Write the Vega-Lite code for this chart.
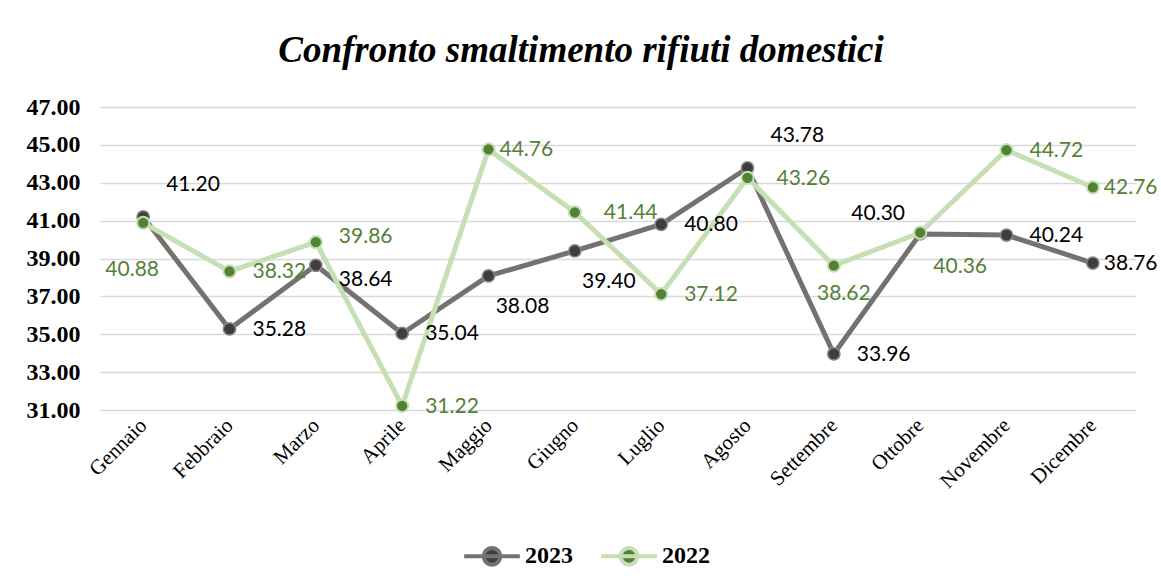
{
  "$schema": "https://vega.github.io/schema/vega-lite/v6.json",
  "autosize": {"type": "none"},
  "width": 1036,
  "height": 303,
  "padding": {"left": 100, "top": 107, "right": 25, "bottom": 178},
  "background": "white",
  "title": {
    "text": "Confronto smaltimento rifiuti domestici",
    "font": "Liberation Serif",
    "fontSize": 37,
    "fontWeight": "bold",
    "fontStyle": "italic",
    "color": "#000000",
    "anchor": "middle",
    "frame": "group",
    "dx": -37,
    "offset": 25
  },
  "config": {
    "view": {"stroke": null},
    "axis": {"grid": true}
  },
  "data": {
    "values": [
      {"mese": "Gennaio", "serie": "2023", "valore": 41.20},
      {"mese": "Febbraio", "serie": "2023", "valore": 35.28},
      {"mese": "Marzo", "serie": "2023", "valore": 38.64},
      {"mese": "Aprile", "serie": "2023", "valore": 35.04},
      {"mese": "Maggio", "serie": "2023", "valore": 38.08},
      {"mese": "Giugno", "serie": "2023", "valore": 39.40},
      {"mese": "Luglio", "serie": "2023", "valore": 40.80},
      {"mese": "Agosto", "serie": "2023", "valore": 43.78},
      {"mese": "Settembre", "serie": "2023", "valore": 33.96},
      {"mese": "Ottobre", "serie": "2023", "valore": 40.30},
      {"mese": "Novembre", "serie": "2023", "valore": 40.24},
      {"mese": "Dicembre", "serie": "2023", "valore": 38.76},
      {"mese": "Gennaio", "serie": "2022", "valore": 40.88},
      {"mese": "Febbraio", "serie": "2022", "valore": 38.32},
      {"mese": "Marzo", "serie": "2022", "valore": 39.86},
      {"mese": "Aprile", "serie": "2022", "valore": 31.22},
      {"mese": "Maggio", "serie": "2022", "valore": 44.76},
      {"mese": "Giugno", "serie": "2022", "valore": 41.44},
      {"mese": "Luglio", "serie": "2022", "valore": 37.12},
      {"mese": "Agosto", "serie": "2022", "valore": 43.26},
      {"mese": "Settembre", "serie": "2022", "valore": 38.62},
      {"mese": "Ottobre", "serie": "2022", "valore": 40.36},
      {"mese": "Novembre", "serie": "2022", "valore": 44.72},
      {"mese": "Dicembre", "serie": "2022", "valore": 42.76}
    ]
  },
  "encoding": {
    "x": {
      "field": "mese",
      "type": "nominal",
      "sort": ["Gennaio", "Febbraio", "Marzo", "Aprile", "Maggio", "Giugno", "Luglio", "Agosto", "Settembre", "Ottobre", "Novembre", "Dicembre"],
      "scale": {"type": "point", "padding": 0.5},
      "axis": {
        "title": null,
        "grid": false,
        "domain": false,
        "ticks": false,
        "labelAngle": -45,
        "labelAlign": "right",
        "labelBaseline": "middle",
        "labelFont": "Liberation Serif",
        "labelFontSize": 21,
        "labelColor": "#000000",
        "labelPadding": 12
      }
    },
    "y": {
      "field": "valore",
      "type": "quantitative",
      "scale": {"domain": [31, 47], "zero": false, "nice": false},
      "axis": {
        "title": null,
        "values": [31, 33, 35, 37, 39, 41, 43, 45, 47],
        "format": ".2f",
        "domain": false,
        "ticks": false,
        "grid": true,
        "gridColor": "#d9d9d9",
        "gridWidth": 1.5,
        "labelFont": "Liberation Serif",
        "labelFontSize": 24,
        "labelFontWeight": "bold",
        "labelColor": "#000000",
        "labelPadding": 20
      }
    }
  },
  "layer": [
    {
      "transform": [{"filter": "datum.serie == '2023'"}],
      "mark": {"type": "line", "strokeWidth": 5, "strokeJoin": "round"},
      "encoding": {
        "color": {
          "field": "serie",
          "type": "nominal",
          "scale": {"domain": ["2023", "2022"], "range": ["#767171", "#C5E0B4"]},
          "legend": {
            "title": null,
            "orient": "none",
            "direction": "horizontal",
            "legendX": 362,
            "legendY": 419,
            "symbolType": "M-1,0H1M0.3,0A0.3,0.3,0,1,1,-0.3,0A0.3,0.3,0,1,1,0.3,0Z",
            "symbolSize": 3100,
            "symbolStrokeWidth": 4,
            "labelFont": "Liberation Serif",
            "labelFontSize": 24,
            "labelFontWeight": "bold",
            "labelColor": "#000000",
            "labelOffset": 3,
            "columnPadding": 20,
            "encode": {
              "symbols": {
                "update": {
                  "fill": {"signal": "datum.label == '2023' ? '#404040' : '#548235'"},
                  "fillOpacity": {"value": 1}
                }
              }
            }
          }
        }
      }
    },
    {
      "transform": [{"filter": "datum.serie == '2023'"}],
      "mark": {"type": "point", "filled": true, "size": 150, "fill": "#3f3d3d", "stroke": "#8a8686", "strokeWidth": 1.5, "opacity": 1}
    },
    {
      "transform": [{"filter": "datum.serie == '2022'"}],
      "mark": {"type": "line", "strokeWidth": 5, "strokeJoin": "round"},
      "encoding": {
        "color": {"field": "serie", "type": "nominal"}
      }
    },
    {
      "transform": [{"filter": "datum.serie == '2022'"}],
      "mark": {"type": "point", "filled": true, "size": 150, "fill": "#548235", "stroke": "#C5E0B4", "strokeWidth": 2, "opacity": 1}
    },
    {
      "transform": [{"filter": "indexof(['2023|Febbraio','2023|Aprile','2023|Luglio','2023|Settembre','2023|Novembre','2022|Febbraio','2022|Aprile','2022|Luglio','2022|Novembre'], datum.serie + '|' + datum.mese) >= 0"}],
      "mark": {"type": "text", "align": "left", "baseline": "middle", "dx": 23, "dy": 1, "font": "Lato", "fontSize": 21},
      "encoding": {
        "text": {"field": "valore", "type": "quantitative", "format": ".2f"},
        "color": {"condition": {"test": "datum.serie == '2023'", "value": "#000000"}, "value": "#538135"}
      }
    },
    {
      "transform": [{"filter": "indexof(['2023|Dicembre','2022|Dicembre','2022|Maggio'], datum.serie + '|' + datum.mese) >= 0"}],
      "mark": {"type": "text", "align": "left", "baseline": "middle", "dx": 11, "dy": 1, "font": "Lato", "fontSize": 21},
      "encoding": {
        "text": {"field": "valore", "type": "quantitative", "format": ".2f"},
        "color": {"condition": {"test": "datum.serie == '2023'", "value": "#000000"}, "value": "#538135"}
      }
    },
    {
      "transform": [{"filter": "indexof(['2022|Giugno','2022|Agosto'], datum.serie + '|' + datum.mese) >= 0"}],
      "mark": {"type": "text", "align": "left", "baseline": "middle", "dx": 29, "dy": 1, "font": "Lato", "fontSize": 21, "color": "#538135"},
      "encoding": {
        "text": {"field": "valore", "type": "quantitative", "format": ".2f"}
      }
    },
    {
      "transform": [{"filter": "indexof(['2022|Marzo'], datum.serie + '|' + datum.mese) >= 0"}],
      "mark": {"type": "text", "align": "left", "baseline": "middle", "dx": 23, "dy": -5, "font": "Lato", "fontSize": 21, "color": "#538135"},
      "encoding": {
        "text": {"field": "valore", "type": "quantitative", "format": ".2f"}
      }
    },
    {
      "transform": [{"filter": "indexof(['2023|Marzo'], datum.serie + '|' + datum.mese) >= 0"}],
      "mark": {"type": "text", "align": "left", "baseline": "middle", "dx": 23, "dy": 15, "font": "Lato", "fontSize": 21, "color": "#000000"},
      "encoding": {
        "text": {"field": "valore", "type": "quantitative", "format": ".2f"}
      }
    },
    {
      "transform": [{"filter": "indexof(['2023|Gennaio','2023|Agosto'], datum.serie + '|' + datum.mese) >= 0"}],
      "mark": {"type": "text", "align": "left", "baseline": "middle", "dx": 23, "dy": -32, "font": "Lato", "fontSize": 21, "color": "#000000"},
      "encoding": {
        "text": {"field": "valore", "type": "quantitative", "format": ".2f"}
      }
    },
    {
      "transform": [{"filter": "indexof(['2023|Maggio','2023|Giugno'], datum.serie + '|' + datum.mese) >= 0"}],
      "mark": {"type": "text", "align": "center", "baseline": "middle", "dx": 34, "dy": 31, "font": "Lato", "fontSize": 21, "color": "#000000"},
      "encoding": {
        "text": {"field": "valore", "type": "quantitative", "format": ".2f"}
      }
    },
    {
      "transform": [{"filter": "indexof(['2022|Ottobre'], datum.serie + '|' + datum.mese) >= 0"}],
      "mark": {"type": "text", "align": "center", "baseline": "middle", "dx": 40, "dy": 34, "font": "Lato", "fontSize": 21, "color": "#538135"},
      "encoding": {
        "text": {"field": "valore", "type": "quantitative", "format": ".2f"}
      }
    },
    {
      "transform": [{"filter": "indexof(['2022|Settembre'], datum.serie + '|' + datum.mese) >= 0"}],
      "mark": {"type": "text", "align": "center", "baseline": "middle", "dx": 10, "dy": 28, "font": "Lato", "fontSize": 21, "color": "#538135"},
      "encoding": {
        "text": {"field": "valore", "type": "quantitative", "format": ".2f"}
      }
    },
    {
      "transform": [{"filter": "indexof(['2023|Ottobre'], datum.serie + '|' + datum.mese) >= 0"}],
      "mark": {"type": "text", "align": "center", "baseline": "middle", "dx": -42, "dy": -20, "font": "Lato", "fontSize": 21, "color": "#000000"},
      "encoding": {
        "text": {"field": "valore", "type": "quantitative", "format": ".2f"}
      }
    },
    {
      "transform": [{"filter": "indexof(['2022|Gennaio'], datum.serie + '|' + datum.mese) >= 0"}],
      "mark": {"type": "text", "align": "center", "baseline": "middle", "dx": -11, "dy": 47, "font": "Lato", "fontSize": 21, "color": "#538135"},
      "encoding": {
        "text": {"field": "valore", "type": "quantitative", "format": ".2f"}
      }
    }
  ]
}
